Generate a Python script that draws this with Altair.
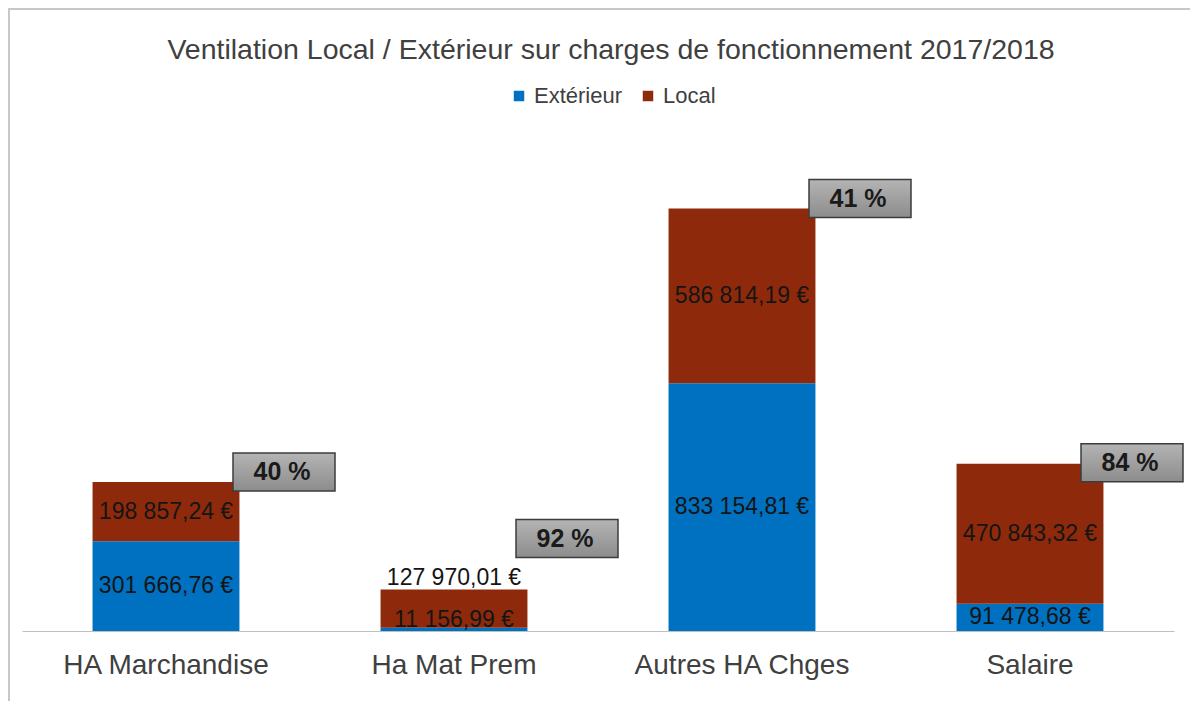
import altair as alt
import pandas as pd

categories = ["HA Marchandise", "Ha Mat Prem", "Autres HA Chges", "Salaire"]
exterieur = [301666.76, 11156.99, 833154.81, 91478.68]
local = [198857.24, 127970.01, 586814.19, 470843.32]
series = ["Extérieur", "Local"]
colors = ["#0070C0", "#8E2A0B"]

FONT = "Liberation Sans"


def fmt(v):
    s = f"{v:,.2f}".replace(",", " ").replace(".", ",")
    return s + " €"


rows = []
for c, e, l in zip(categories, exterieur, local):
    rows.append({"cat": c, "serie": series[0], "value": e, "ord": 0,
                 "mid": e / 2, "label": fmt(e), "top": e + l})
    rows.append({"cat": c, "serie": series[1], "value": l, "ord": 1,
                 "mid": e + l / 2, "label": fmt(l), "top": e + l})
df = pd.DataFrame(rows)

tot = pd.DataFrame({
    "cat": categories,
    "top": [e + l for e, l in zip(exterieur, local)],
    "pct": [f"{round(l / (e + l) * 100)} %" for e, l in zip(exterieur, local)],
})

xenc = alt.X("cat:N", sort=categories, title=None,
             scale=alt.Scale(paddingInner=0.49, paddingOuter=0.245),
             axis=alt.Axis(labelAngle=0, labelFontSize=28, labelColor="#404040",
                           labelFont=FONT, labelPadding=20, ticks=False, labelLimit=0,
                           domainColor="#bfbfbf", domainWidth=1.2))
yscale = alt.Scale(domain=[0, 1600000])

bars = alt.Chart(df).mark_bar().encode(
    x=xenc,
    y=alt.Y("value:Q", stack="zero", scale=yscale, axis=None),
    color=alt.Color("serie:N", scale=alt.Scale(domain=series, range=colors),
                    legend=alt.Legend(title=None, orient="none", direction="horizontal",
                                      legendX=486, legendY=-70, symbolType="square",
                                      symbolSize=110, symbolStrokeWidth=0,
                                      labelFontSize=22, labelFont=FONT,
                                      labelColor="#404040", labelOffset=4,
                                      columnPadding=14)),
    order=alt.Order("ord:Q", sort="ascending"),
)

is_mat = alt.datum.cat == "Ha Mat Prem"
not_mat = alt.datum.cat != "Ha Mat Prem"

txt_style = dict(fontSize=23, font=FONT, color="#151515")

labels = alt.Chart(df).transform_filter(not_mat).mark_text(**txt_style).encode(
    x=alt.X("cat:N", sort=categories), y=alt.Y("mid:Q", scale=yscale), text="label:N")

lab_ext_sp = alt.Chart(df).transform_filter(is_mat).transform_filter(
    alt.datum.ord == 0).mark_text(dy=-9, **txt_style).encode(
    x=alt.X("cat:N", sort=categories), y=alt.Y("mid:Q", scale=yscale), text="label:N")

lab_loc_sp = alt.Chart(df).transform_filter(is_mat).transform_filter(
    alt.datum.ord == 1).mark_text(dy=-12, **txt_style).encode(
    x=alt.X("cat:N", sort=categories), y=alt.Y("top:Q", scale=yscale), text="label:N")

grad = alt.Gradient(gradient="linear", x1=0, x2=0, y1=0, y2=1,
                    stops=[alt.GradientStop(color="#b4b4b4", offset=0),
                           alt.GradientStop(color="#8c8c8c", offset=1)])


def pct_layer(flt, xoff, yoff):
    box = alt.Chart(tot).transform_filter(flt).mark_rect(
        width=102, height=38, xOffset=xoff, yOffset=yoff, fill=grad,
        stroke="#3c3c3c", strokeWidth=1.5).encode(
        x=alt.X("cat:N", sort=categories), y=alt.Y("top:Q", scale=yscale))
    t = alt.Chart(tot).transform_filter(flt).mark_text(
        fontSize=25, fontWeight="bold", font=FONT, color="#1a1a1a",
        dx=xoff - 2, dy=yoff).encode(
        x=alt.X("cat:N", sort=categories), y=alt.Y("top:Q", scale=yscale), text="pct:N")
    return box + t


outer = alt.FieldOneOfPredicate(field="cat", oneOf=["HA Marchandise", "Autres HA Chges"])
sal = alt.datum.cat == "Salaire"

frame = alt.Chart(tot).mark_rect(fill=None, stroke="#c8c8c8", strokeWidth=1.5).encode(
    x=alt.value(-13), x2=alt.value(1300), y=alt.value(-146), y2=alt.value(800))

chart = alt.layer(
    frame, bars, labels, lab_ext_sp, lab_loc_sp,
    pct_layer(outer, 118, -10), pct_layer(is_mat, 113, -51), pct_layer(sal, 102, -1),
).properties(
    width=1152, height=476,
    title=alt.Title("Ventilation Local / Extérieur sur charges de fonctionnement 2017/2018",
                    fontSize=28.5, font=FONT, fontWeight="normal", color="#404040",
                    anchor="middle", frame="group", offset=0, dy=56, dx=13),
    autosize=alt.AutoSizeParams(type="none"),
    padding={"left": 14, "top": 147, "right": 16, "bottom": 70},
).configure_view(stroke=None)

chart.save("out.html", embed_options={"renderer": "svg", "actions": False})
